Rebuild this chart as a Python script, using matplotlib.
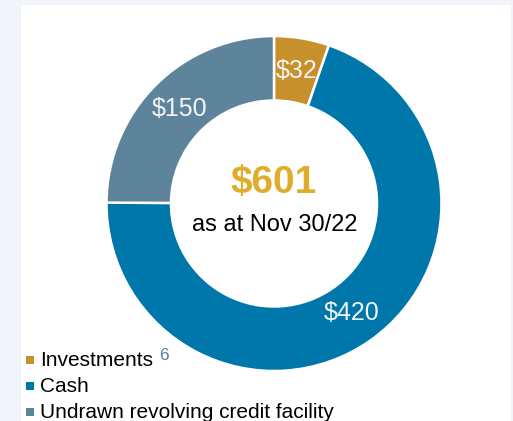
import matplotlib.pyplot as plt
from matplotlib.patches import Rectangle

plt.rcParams['font.family'] = ['Liberation Sans', 'DejaVu Sans']

# chart data
categories = ['Investments', 'Cash', 'Undrawn revolving credit facility']
values = [32, 420, 150]
colors = ['#C8902A', '#0077AA', '#5E849B']
value_labels = ['$32', '$420', '$150']
total_label = '$601'
date_label = 'as at Nov 30/22'
footnote = '6'

W, H = 513, 421
fig = plt.figure(figsize=(W / 100, H / 100), dpi=100, facecolor='#F1F5F9')
ax = fig.add_axes([0, 0, 1, 1])

def py(y):
    # pixel row (from top) -> data y
    return H - y

# white panel
ax.add_patch(Rectangle((21, 0), 490, py(5), facecolor='white', edgecolor='none', zorder=0))

cx, cy = 274, py(203.5)
R = 167.5
ring = 64.5

wedges, texts = ax.pie(values, colors=colors, labels=value_labels, startangle=90,
                       counterclock=False, radius=R, center=(cx, cy),
                       labeldistance=0.8,
                       wedgeprops=dict(width=ring, edgecolor='white', linewidth=1.8),
                       textprops=dict(color='#F4F4F4', fontsize=18, ha='center', va='center'))

ax.text(cx, py(183), total_label, color='#E0AC2B', fontsize=28, fontweight='bold',
        ha='center', va='center')
ax.text(cx + 1, py(225), date_label, color='black', fontsize=17, ha='center', va='center')

# legend
for i, (name, col) in enumerate(zip(categories, colors)):
    y = py(360 + i * 26)
    ax.scatter([29.5], [y], marker='s', s=26, color=col, linewidths=0, zorder=3)
    ax.text(40, y, name, color='black', fontsize=15, ha='left', va='center')
ax.text(159, py(355), footnote, color='#5E7A8E', fontsize=12.5, ha='left', va='center')

ax.set_xlim(0, W)
ax.set_ylim(0, H)
ax.set_aspect('auto')
ax.axis('off')

fig.savefig('out.png', dpi=100, facecolor=fig.get_facecolor())
